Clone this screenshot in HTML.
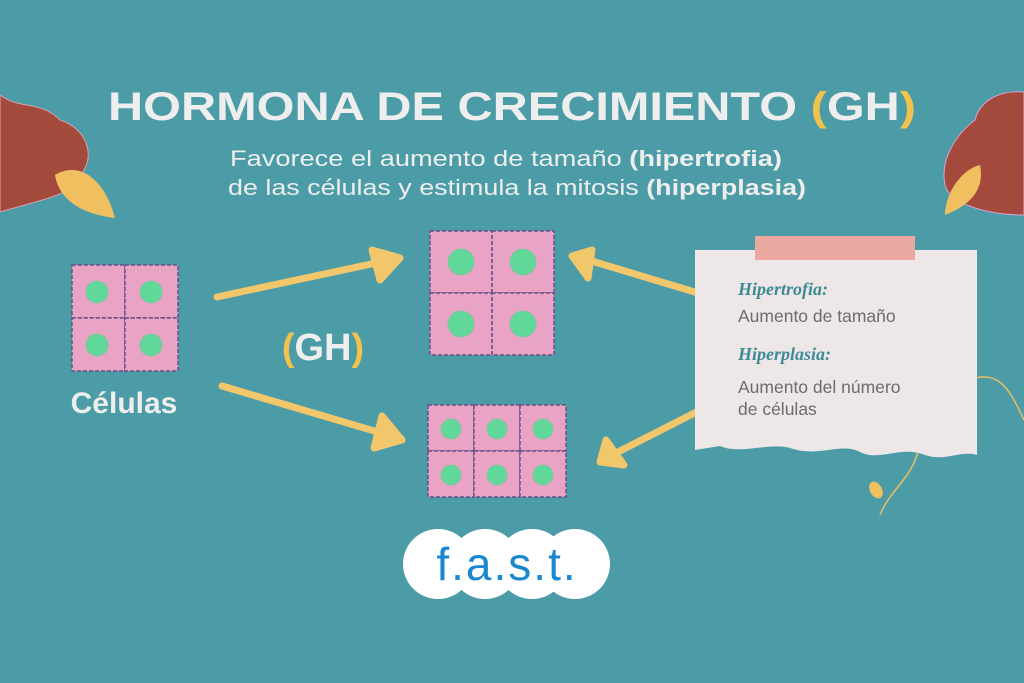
<!DOCTYPE html>
<html><head><meta charset="utf-8"><style>
body{margin:0;width:1024px;height:683px;overflow:hidden;background:#4b9ca7;}
svg{display:block}
</style></head><body>
<svg width="1024" height="683" viewBox="0 0 1024 683" xmlns="http://www.w3.org/2000/svg">
<rect width="1024" height="683" fill="#4b9ca7"/>
<path d="M0,95 C20,110 40,100 60,120 C90,130 95,160 80,175 C75,195 40,200 0,212 Z" fill="#a44a3c" stroke="#d8a0b0" stroke-width="1"/>
<path d="M55,175 C80,160 105,180 115,218 C90,215 60,205 55,175 Z" fill="#f0c060"/>
<path d="M1024,92 C1000,90 980,100 975,120 C955,135 940,160 945,185 C950,205 990,215 1024,215 Z" fill="#a44a3c" stroke="#d8a0d0" stroke-width="1"/>
<path d="M980,165 C960,170 945,195 945,215 C970,205 985,190 980,165 Z" fill="#f0c060"/>
<path d="M975,378 C1000,372 1010,390 1024,420" fill="none" stroke="#e8c060" stroke-width="1.5"/>
<path d="M918,452 C910,480 890,490 880,515" fill="none" stroke="#e8c060" stroke-width="1.5"/>
<ellipse cx="876" cy="490" rx="6" ry="9" fill="#f0c060" transform="rotate(-30 876 490)"/>

<text x="512" y="120" text-anchor="middle" font-family="Liberation Sans, sans-serif" font-weight="bold" font-size="40" fill="#eeeeee" textLength="808" lengthAdjust="spacingAndGlyphs">HORMONA DE CRECIMIENTO <tspan fill="#f2c24e">(</tspan>GH<tspan fill="#f2c24e">)</tspan></text>
<text x="506" y="166" text-anchor="middle" font-family="Liberation Sans, sans-serif" font-size="22" fill="#eeeeee" textLength="552" lengthAdjust="spacingAndGlyphs">Favorece el aumento de tamaño <tspan font-weight="bold">(hipertrofia)</tspan></text>
<text x="517" y="195" text-anchor="middle" font-family="Liberation Sans, sans-serif" font-size="22" fill="#eeeeee" textLength="578" lengthAdjust="spacingAndGlyphs">de las células y estimula la mitosis <tspan font-weight="bold">(hiperplasia)</tspan></text>

<g stroke="#6a4f86" stroke-width="1.5" stroke-dasharray="4 2" fill="#e9a3c4">
<rect x="72" y="265" width="53" height="53"/><rect x="125" y="265" width="53" height="53"/>
<rect x="72" y="318" width="53" height="53"/><rect x="125" y="318" width="53" height="53"/>
<rect x="430" y="231" width="62" height="62"/><rect x="492" y="231" width="62" height="62"/>
<rect x="430" y="293" width="62" height="62"/><rect x="492" y="293" width="62" height="62"/>
<rect x="428" y="405" width="46" height="46"/><rect x="474" y="405" width="46" height="46"/><rect x="520" y="405" width="46" height="46"/>
<rect x="428" y="451" width="46" height="46"/><rect x="474" y="451" width="46" height="46"/><rect x="520" y="451" width="46" height="46"/>
</g>
<g fill="#5fd89a" stroke="#8cc0a0" stroke-width="1">
<circle cx="97" cy="292" r="11"/><circle cx="151" cy="292" r="11"/><circle cx="97" cy="345" r="11"/><circle cx="151" cy="345" r="11"/>
<circle cx="461" cy="262" r="13"/><circle cx="523" cy="262" r="13"/><circle cx="461" cy="324" r="13"/><circle cx="523" cy="324" r="13"/>
<circle cx="451" cy="429" r="10"/><circle cx="497" cy="429" r="10"/><circle cx="543" cy="429" r="10"/>
<circle cx="451" cy="475" r="10"/><circle cx="497" cy="475" r="10"/><circle cx="543" cy="475" r="10"/>
</g>

<text x="124" y="413" text-anchor="middle" font-family="Liberation Sans, sans-serif" font-weight="bold" font-size="30" fill="#eeeeee">Células</text>
<text x="323" y="360" text-anchor="middle" font-family="Liberation Sans, sans-serif" font-weight="bold" font-size="38" fill="#eeeeee"><tspan fill="#f2c24e">(</tspan>GH<tspan fill="#f2c24e">)</tspan></text>

<g stroke="#f2c66a" stroke-width="7" stroke-linecap="round" stroke-linejoin="round" fill="#f2c66a">
<line x1="217" y1="297" x2="385" y2="261"/><polygon points="372,250 400,258 380,280"/>
<line x1="222" y1="386" x2="388" y2="435"/><polygon points="382,416 402,440 374,448"/>
<line x1="718" y1="299" x2="585" y2="259"/><polygon points="592,250 572,256 588,278"/>
<line x1="720" y1="400" x2="612" y2="455"/><polygon points="606,440 600,462 624,465"/>
</g>

<path d="M695,250 L977,250 L977,455 C960,450 945,462 925,455 C900,445 880,462 860,452 C840,442 820,458 790,448 C770,442 740,455 720,446 L695,450 Z" fill="#ede7e7"/>
<rect x="755" y="236" width="160" height="24" fill="#eaa8a0"/>
<text x="738" y="295" font-family="Liberation Serif, serif" font-style="italic" font-weight="bold" font-size="18" fill="#3e8a95">Hipertrofia:</text>
<text x="738" y="322" font-family="Liberation Sans, sans-serif" font-size="17.5" fill="#6c6c6c">Aumento de tamaño</text>
<text x="738" y="360" font-family="Liberation Serif, serif" font-style="italic" font-weight="bold" font-size="18" fill="#3e8a95">Hiperplasia:</text>
<text x="738" y="393" font-family="Liberation Sans, sans-serif" font-size="17.5" fill="#6c6c6c">Aumento del número</text>
<text x="738" y="415" font-family="Liberation Sans, sans-serif" font-size="17.5" fill="#6c6c6c">de células</text>

<g fill="#ffffff">
<circle cx="438" cy="564" r="35"/><circle cx="485" cy="564" r="35"/><circle cx="532" cy="564" r="35"/><circle cx="575" cy="564" r="35"/>
</g>
<text x="507" y="580" text-anchor="middle" font-family="Liberation Sans, sans-serif" font-size="46" fill="#1a88d0" letter-spacing="2">f.a.s.t.</text>
</svg>
</body></html>
